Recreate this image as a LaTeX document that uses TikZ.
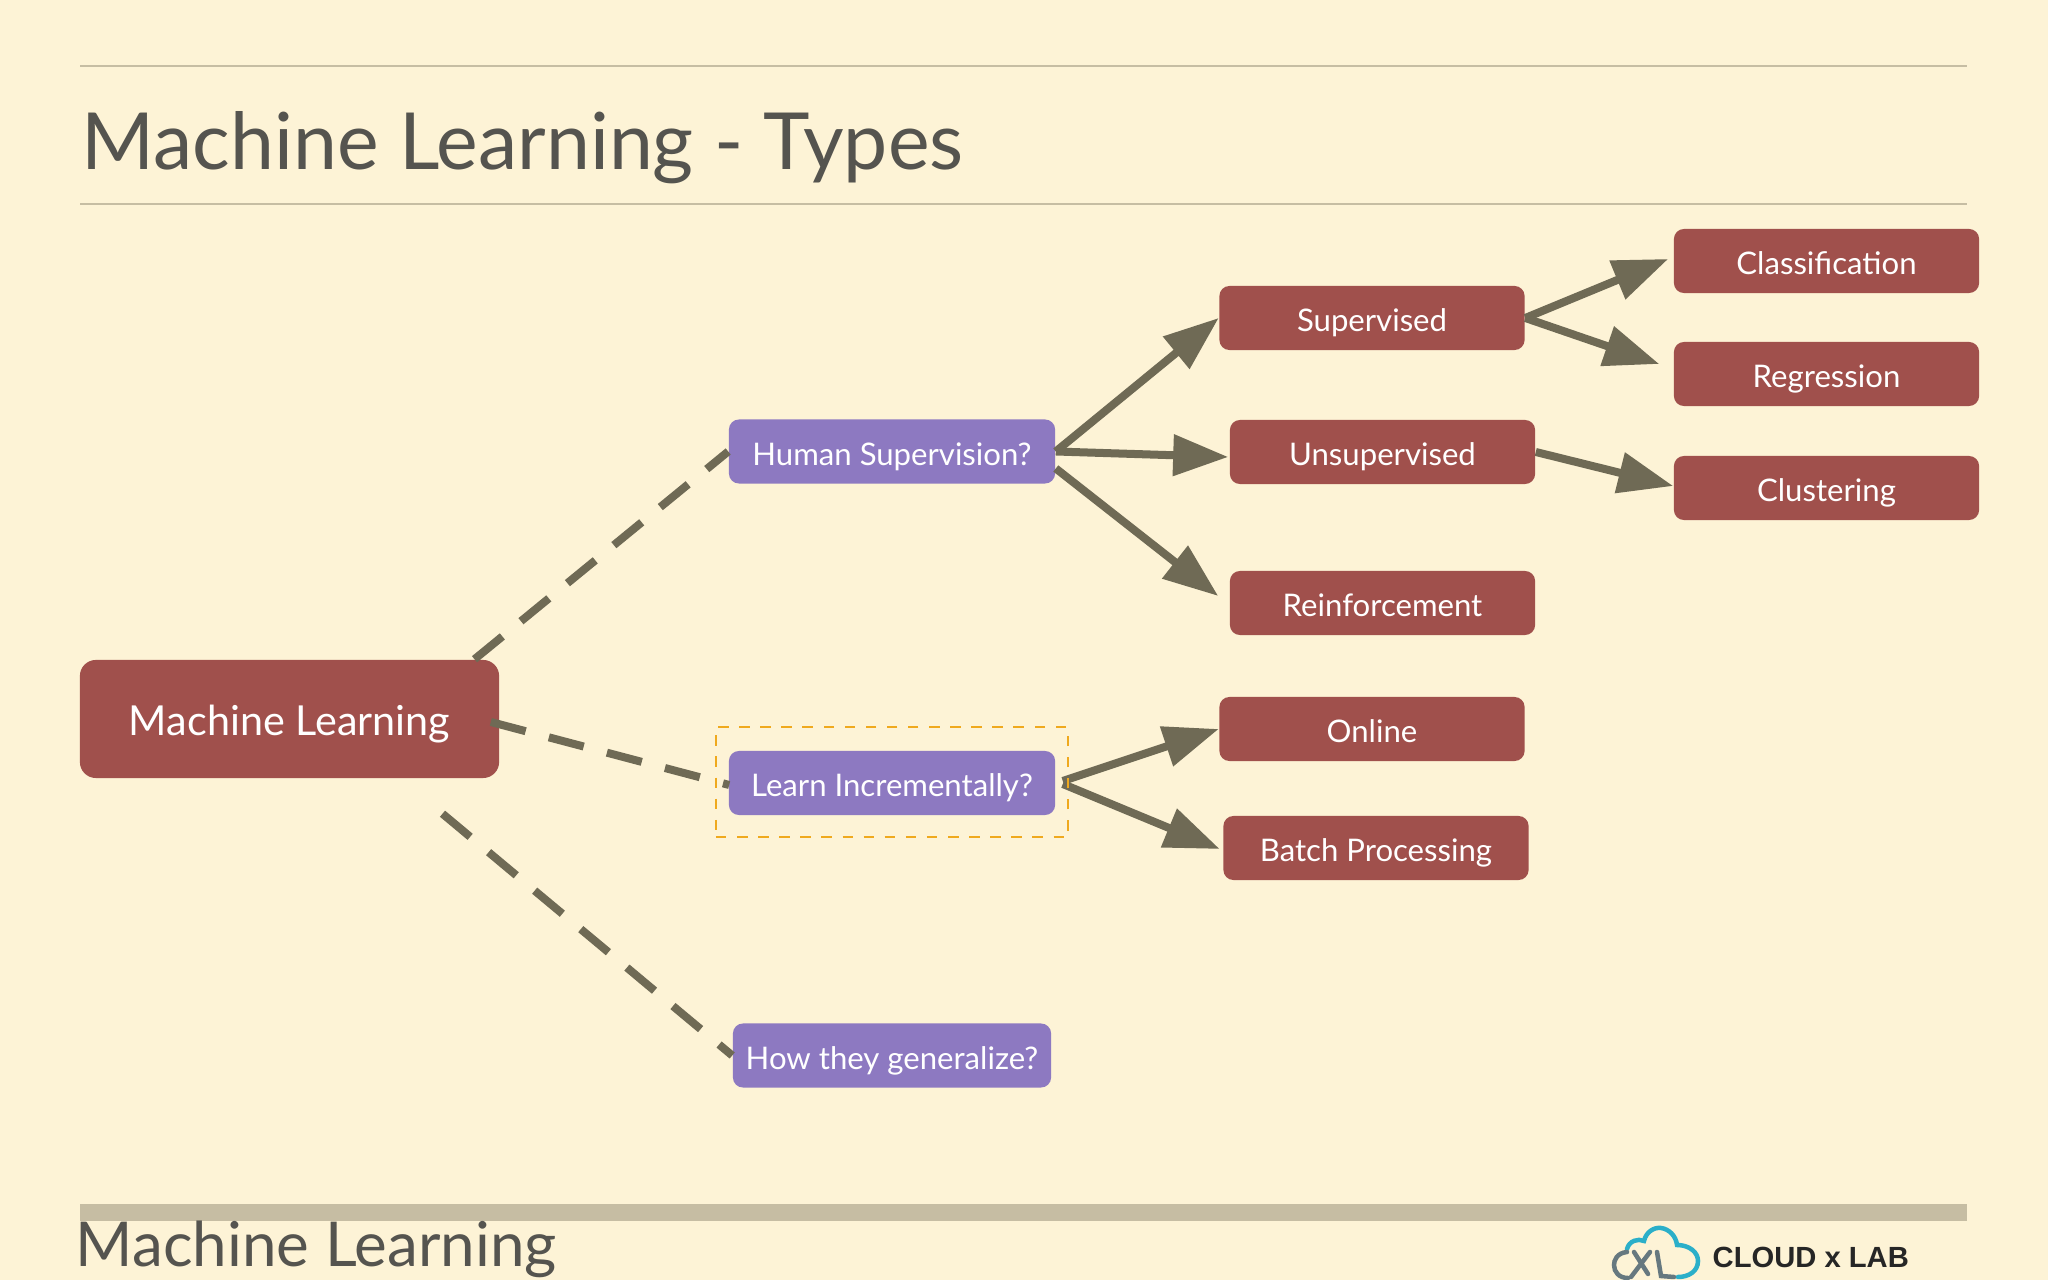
\documentclass[tikz,border=0pt]{standalone}
\usepackage{fontspec}
\setmainfont{Lato}
\newfontfamily\logofont{Liberation Sans}
\usetikzlibrary{arrows.meta,calc}
\definecolor{paper}{HTML}{FDF3D6}
\definecolor{rulecol}{HTML}{C6BDA3}
\definecolor{titlecol}{HTML}{55544F}
\definecolor{boxred}{HTML}{A0504C}
\definecolor{boxpurple}{HTML}{8D79C1}
\definecolor{edgecol}{HTML}{6F6A55}
\definecolor{markcol}{HTML}{EFA91E}
\definecolor{logoblue}{HTML}{2BAFC9}
\definecolor{logogray}{HTML}{66787F}
\tikzset{
  topic/.style={fill=boxred, text=white, rounded corners=0.1cm, minimum width=3.05cm, minimum height=0.64cm, inner sep=0pt, text height=8.5pt, text depth=0.7pt, font=\fontsize{8.85}{11}\selectfont},
  question/.style={topic, fill=boxpurple, minimum width=3.26cm},
  branch/.style={draw=edgecol, line width=0.08cm, -{Triangle[length=0.55cm, width=0.40cm]}},
  link/.style={draw=edgecol, line width=0.08cm, dash pattern=on 0.36cm off 0.24cm},
  logoline/.style={line width=0.045cm, line cap=round},
}
\begin{document}
\begin{tikzpicture}[x=0.01cm, y=-0.01cm]
  \fill[paper] (0,0) rectangle (2048,1280);
  \useasboundingbox (0,0) rectangle (2048,1280);
  % Header and footer
  \draw[rulecol, line width=0.02cm] (80,66) -- (1967,66);
  \draw[rulecol, line width=0.02cm] (80,204) -- (1967,204);
  \fill[rulecol] (80,1204) rectangle (1967,1221);
  \node[anchor=base west, inner sep=0pt, text=titlecol, font=\fontsize{22.4}{28}\selectfont] (title) at (81,170) {Machine Learning - Types};
  \node[anchor=base west, inner sep=0pt, text=titlecol, font=\fontsize{17.6}{23}\selectfont] (course) at (75,1267) {Machine Learning};
  % Nodes
  \node[topic, minimum width=4.19cm, minimum height=1.18cm, rounded corners=0.16cm, text height=10.5pt, text depth=1.3pt, font=\fontsize{11.75}{14}\selectfont] (ml) at (289.5,719) {Machine Learning};
  \node[question] (human) at (892,451.5) {Human Supervision?};
  \node[question] (learn) at (892,783) {Learn Incrementally?};
  \node[question, minimum width=3.18cm] (general) at (892,1055.5) {How they generalize?};
  \node[topic] (sup) at (1372,318) {Supervised};
  \node[topic] (unsup) at (1382.5,452) {Unsupervised};
  \node[topic] (reinf) at (1382.5,603) {Reinforcement};
  \node[topic] (online) at (1372,729) {Online};
  \node[topic] (batch) at (1376,848) {Batch Processing};
  \node[topic] (class) at (1826.5,261) {Classification};
  \node[topic] (regr) at (1826.5,374) {Regression};
  \node[topic] (clust) at (1826.5,488) {Clustering};
  % Edges
  \draw[link] ($(ml.north)+(185,0)$) -- (human.west);
  \draw[link] ($(ml.east)+(-9,3)$) -- ($(learn.west)+(1,2)$);
  \draw[link] ($(ml.south)+(153,35)$) -- (general.west);
  \draw[branch] (human.east) -- (sup.west);
  \draw[branch] (human.east) -- ($(unsup.west)+(-1,5)$);
  \draw[branch] ($(human.east)+(0,17)$) -- ($(reinf.west)+(-11,-7)$);
  \draw[branch] (sup.east) -- ($(class.west)+(-5,-2)$);
  \draw[branch] (sup.east) -- ($(regr.west)+(-14,-10)$);
  \draw[branch] (unsup.east) -- ($(clust.west)+(0,-2)$);
  \draw[branch] ($(learn.east)+(7,-2)$) -- (online.west);
  \draw[branch] ($(learn.east)+(7,1)$) -- ($(batch.west)+(-3,1)$);
  \node[draw=markcol, dashed, line width=0.025cm, minimum width=3.52cm, minimum height=1.10cm] (mark) at (892,782) {};
  % Logo
  \draw[logoblue, logoline] (1627,1249) .. controls (1629,1241) and (1638,1238) .. (1644,1241) .. controls (1646,1232) and (1654,1227) .. (1661,1228) .. controls (1669,1229) and (1676,1236) .. (1677,1245) .. controls (1689,1245) and (1698,1252) .. (1698,1261) .. controls (1698,1271) and (1689,1277) .. (1678,1277);
  \draw[logogray, logoline] (1627,1252) .. controls (1617,1253) and (1614,1260) .. (1614,1265) .. controls (1614,1272) and (1619,1278) .. (1628,1278);
  \draw[logogray, logoline] (1634,1252) -- (1648,1274);
  \draw[logogray, logoline] (1631,1277) -- (1650,1252);
  \draw[logogray, logoline] (1657,1252) -- (1661,1276) -- (1674,1277);
  \node[anchor=base west, inner sep=0pt, text=black!85, font=\logofont\bfseries\fontsize{8.3}{10}\selectfont] (logo) at (1712,1268) {CLOUD x LAB};
\end{tikzpicture}
\end{document}
